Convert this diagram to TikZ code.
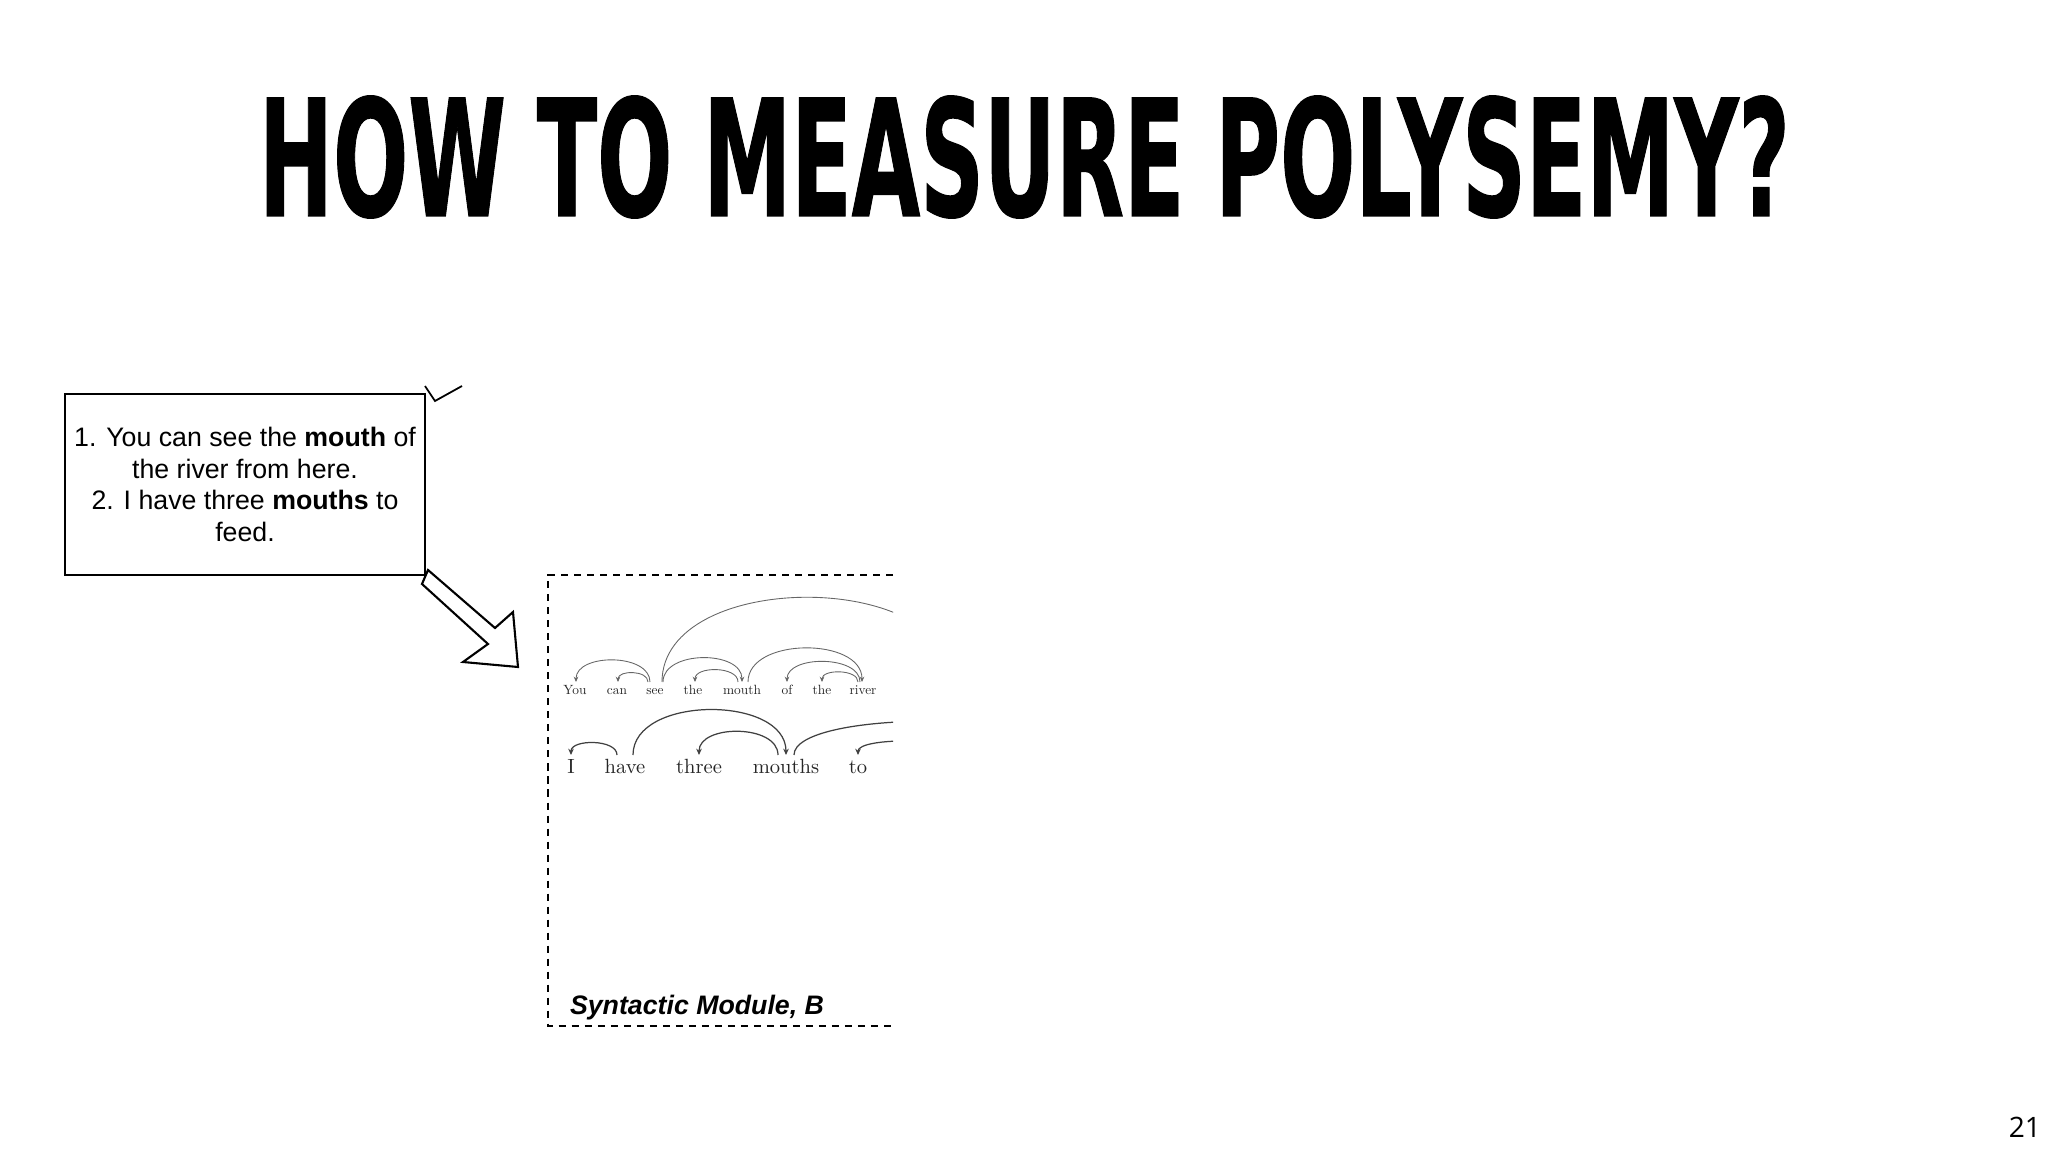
\documentclass[tikz,border=0pt]{standalone}
\usepackage{fontspec}
\usepackage{graphicx}
\usepackage{tikz}
\usetikzlibrary{arrows.meta}
\usetikzlibrary{calc}
\usetikzlibrary{positioning}

\newfontfamily\titlefont[FakeBold=1]{DejaVu Sans Bold}
\newfontfamily\arialfont{Liberation Sans}
\newfontfamily\pagefont{Open Sans}
\newfontfamily\depfont[Extension=.otf]{lmroman10-regular}

\begin{document}
\begin{tikzpicture}[x=0.01cm, y=-0.01cm, semithick]
	\tikzstyle{textbox}=[draw=black, line width=0.6pt, minimum width=3.6cm, minimum height=1.81cm, align=center, inner sep=0pt, font=\arialfont\fontsize{7.6}{9}\selectfont]
	\tikzstyle{wordsmall}=[anchor=base, inner sep=0pt, text=black!85, font=\depfont\fontsize{3.8}{4}\selectfont]
	\tikzstyle{wordbig}=[anchor=base, inner sep=0pt, text=black!85, font=\depfont\fontsize{5.85}{6}\selectfont]
	\tikzstyle{arcsmall}=[draw=black!60, line width=0.25pt, -{Stealth[length=1.5pt,width=1.3pt]}]
	\tikzstyle{arcbig}=[draw=black!75, line width=0.35pt, -{Stealth[length=1.8pt,width=1.6pt]}]
	\tikzstyle{modbox}=[line width=0.7pt, dash pattern=on 2pt off 1.7pt]
	\tikzstyle{hollowarrow}=[line width=0.6pt, line join=miter, fill=white]

	\useasboundingbox (0,0) rectangle (2048,1152);

	\node[inner sep=0pt] (title) at (1024.5,157) {\resizebox{15.3cm}{1.2cm}{\titlefont HOW TO MEASURE POLYSEMY?}};

	\node[textbox] (sent) at (245,484.5) {1. You can see the \textbf{mouth} of\\the river from here.\\2. I have three \textbf{mouths} to\\feed.};
	\draw[line width=0.5pt] (425,386) -- (435,401) -- (462,386);

	\draw[hollowarrow] (428,570) -- (495,628) -- (513,612) -- (518,667) -- (463,662) -- (488,644) -- (422,584) -- cycle;

	\draw[modbox] (893,575) -- (548,575) -- (548,1026) -- (893,1026);

	\foreach \w/\x [count=\i] in {You/575, can/617, see/655, the/693, mouth/742, of/787, the/822, river/863}
		\node[wordsmall] (w\i) at (\x,695) {\w};
	\foreach \w/\x [count=\i] in {I/571, have/625, three/699, mouths/786, to/858}
		\node[wordbig] (v\i) at (\x,773) {\w};

	\coordinate (r1) at (952,682);
	\coordinate (r2) at (1060,755);
	\coordinate (r3) at (960,755);

	\begin{scope}
		\clip (548,575) rectangle (893,1026);
		\foreach \s/\sx/\t/\tx/\h in {3/-5/1/1/29, 3/-7/2/1/12, 3/8/5/0/32, 5/-4/4/2/16, 5/6/8/-1/45, 8/-3/6/0/27, 8/-5/7/0/13}
			\draw[arcsmall] ([shift={(\sx,-13)}]w\s.base) .. controls +(0,-\h) and +(0,-\h) .. ([shift={(\tx,-13)}]w\t.base);
		\draw[arcsmall, -] ([shift={(7,-13)}]w3.base) .. controls +(0,-113) and +(0,-113) .. (r1);

		\foreach \s/\sx/\t/\tx/\h in {2/-8/1/0/16, 2/8/4/0/60, 4/-8/3/0/31}
			\draw[arcbig] ([shift={(\sx,-18)}]v\s.base) .. controls +(0,-\h) and +(0,-\h) .. ([shift={(\tx,-18)}]v\t.base);
		\draw[arcbig, -] ([shift={(8,-18)}]v4.base) .. controls +(0,-45) and +(0,-45) .. (r2);
		\draw[arcbig] (r3) .. controls +(0,-18) and +(0,-18) .. ([shift={(0,-18)}]v5.base);
	\end{scope}

	\node[anchor=base west, inner sep=0pt, font=\arialfont\bfseries\itshape\fontsize{7.6}{9}\selectfont] (modlabel) at (569,1014) {Syntactic Module, B};

	\node[anchor=base east, inner sep=0pt, font=\pagefont\fontsize{8}{9}\selectfont] (pagenum) at (2042,1137) {21};
\end{tikzpicture}
\end{document}
